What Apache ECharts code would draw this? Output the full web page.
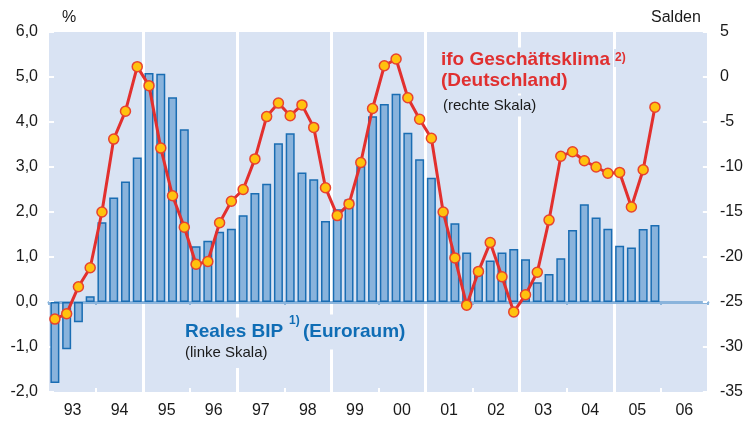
<!DOCTYPE html>
<html>
<head>
<meta charset="utf-8">
<script src="https://cdn.jsdelivr.net/npm/echarts@6/dist/echarts.min.js"></script>
<style>
html,body{margin:0;padding:0;background:#fff;}
#c{width:746px;height:421px;}
</style>
</head>
<body>
<div id="c"></div>
<script>
// Quarters 1993Q1 .. 2006Q4
const years = ['93','94','95','96','97','98','99','00','01','02','03','04','05','06'];
// Real GDP (euro area), % y/y, left axis
const bipValues = [
  -1.80, -1.05, -0.45, 0.13,
  1.77, 2.32, 2.68, 3.21,
  5.09, 5.07, 4.55, 3.84,
  1.24, 1.36, 1.56, 1.63,
  1.93, 2.42, 2.63, 3.53,
  3.75, 2.88, 2.73, 1.80,
  2.06, 2.28, 3.02, 4.13,
  4.40, 4.63, 3.76, 3.17,
  2.76, 2.02, 1.75, 1.10,
  0.66, 0.92, 1.10, 1.18,
  0.95, 0.44, 0.62, 0.97,
  1.60, 2.17, 1.88, 1.63,
  1.25, 1.21, 1.62, 1.71
];
// ifo business climate (Germany), balances, right axis
const ifoValues = [
  -26.9, -26.3, -23.3, -21.2,
  -15.0, -6.9, -3.8, 1.15,
  -0.96, -7.9, -13.2, -16.7,
  -20.8, -20.5, -16.2, -13.8,
  -12.5, -9.1, -4.4, -2.9,
  -4.3, -3.1, -5.6, -12.3,
  -15.4, -14.1, -9.5, -3.5,
  1.25, 2.0, -2.3, -4.7,
  -6.8, -15.0, -20.1, -25.35,
  -21.6, -18.4, -22.2, -26.1,
  -24.2, -21.7, -15.9, -8.8,
  -8.3, -9.3, -10.0, -10.7,
  -10.6, -14.45, -10.3, -3.35
];
const leftTicks = { min: -2, max: 6, interval: 1 };
const rightTicks = { min: -35, max: 5, interval: 5 };

const quarters = [];
years.forEach(y => { for (let q = 1; q <= 4; q++) quarters.push(y + 'Q' + q); });
const pad = arr => arr.concat(new Array(quarters.length - arr.length).fill(null));

const FONT = '"Liberation Sans", Arial, sans-serif';
const BG = '#d9e3f3';

const chart = echarts.init(document.getElementById('c'), null, { renderer: 'canvas' });
chart.setOption({
  animation: false,
  backgroundColor: '#ffffff',
  textStyle: { fontFamily: FONT },
  grid: { left: 49, right: 36, top: 32, bottom: 29, show: true, backgroundColor: BG, borderWidth: 0 },
  xAxis: [
    {
      type: 'category', data: quarters, boundaryGap: true,
      axisLine: { show: true, onZero: true, lineStyle: { color: '#8ab4dc', width: 3 } },
      axisTick: { show: true, length: 3, lineStyle: { color: '#8ab4dc', width: 2 },
        interval: (i) => i % 8 === 4 || i === 0 || i === 52 },
      axisLabel: { show: false },
      splitLine: { show: false }
    },
    {
      type: 'category', data: years, boundaryGap: true, position: 'bottom',
      axisLine: { show: false, onZero: false },
      axisTick: { show: true, inside: true, length: 4, lineStyle: { color: '#ffffff', width: 2 },
        interval: (i) => i % 2 === 1 },
      axisLabel: { show: true, color: '#1a1a1a', fontSize: 16, fontFamily: FONT, margin: 11 },
      splitLine: { show: true, lineStyle: { color: '#ffffff', width: 3 },
        interval: (i) => i % 2 === 0 && i > 0 }
    }
  ],
  yAxis: [
    {
      type: 'value', position: 'left', min: leftTicks.min, max: leftTicks.max, interval: leftTicks.interval,
      axisLine: { show: false },
      axisTick: { show: true, inside: true, length: 5, lineStyle: { color: '#ffffff', width: 2 } },
      axisLabel: { color: '#1a1a1a', fontSize: 16, fontFamily: FONT, margin: 11,
        formatter: v => v.toFixed(1).replace('.', ',') },
      splitLine: { show: false }
    },
    {
      type: 'value', position: 'right', min: rightTicks.min, max: rightTicks.max, interval: rightTicks.interval,
      axisLine: { show: false },
      axisTick: { show: true, inside: true, length: 5, lineStyle: { color: '#ffffff', width: 2 } },
      axisLabel: { color: '#1a1a1a', fontSize: 16, fontFamily: FONT, margin: 12 },
      splitLine: { show: false }
    }
  ],
  series: [
    {
      type: 'bar', xAxisIndex: 0, yAxisIndex: 0, data: pad(bipValues),
      barWidth: 9,
      itemStyle: { color: '#89b3dc', borderColor: '#1a6db3', borderWidth: 1.5 }
    },
    {
      type: 'line', xAxisIndex: 0, yAxisIndex: 1, data: pad(ifoValues),
      symbol: 'circle', symbolSize: 10, showSymbol: true, showAllSymbol: true,
      lineStyle: { color: '#e2302e', width: 3 },
      itemStyle: { color: '#ffc20e', borderColor: '#e8432e', borderWidth: 1.5 },
      z: 5
    }
  ],
  graphic: [
    { type: 'text', left: 62, top: 10, style: { text: '%', font: '16px ' + FONT, fill: '#1a1a1a' } },
    { type: 'text', left: 651, top: 10, style: { text: 'Salden', font: '16px ' + FONT, fill: '#1a1a1a' } },
    { type: 'text', x: 439, y: 60, z: 3, style: { text: 'ifo Geschäftsklima', font: 'bold 19px ' + FONT,
      fill: '#e03030', verticalAlign: 'middle', backgroundColor: BG, padding: [3, 2, 3, 2] } },
    { type: 'text', x: 614, y: 58, z: 3, style: { text: '2)', font: 'bold 12px ' + FONT,
      fill: '#e03030', verticalAlign: 'middle', backgroundColor: BG, padding: [3, 2, 3, 1] } },
    { type: 'text', x: 439, y: 81, z: 3, style: { text: '(Deutschland)', font: 'bold 19px ' + FONT,
      fill: '#e03030', verticalAlign: 'middle', backgroundColor: BG, padding: [3, 2, 3, 2] } },
    { type: 'text', x: 441, y: 106, z: 3, style: { text: '(rechte Skala)', font: '15px ' + FONT,
      fill: '#1a1a1a', verticalAlign: 'middle', backgroundColor: BG, padding: [3, 2, 3, 2] } },
    { type: 'text', x: 183, y: 332, z: 3, style: { text: 'Reales BIP', font: 'bold 19px ' + FONT,
      fill: '#0f6db5', verticalAlign: 'middle', backgroundColor: BG, padding: [5, 2, 5, 2] } },
    { type: 'text', x: 288, y: 321, z: 3, style: { text: '1)', font: 'bold 12px ' + FONT,
      fill: '#0f6db5', verticalAlign: 'middle', backgroundColor: BG, padding: [3, 2, 3, 1] } },
    { type: 'text', x: 301, y: 332, z: 3, style: { text: '(Euroraum)', font: 'bold 19px ' + FONT,
      fill: '#0f6db5', verticalAlign: 'middle', backgroundColor: BG, padding: [8, 2, 8, 2] } },
    { type: 'text', x: 183, y: 353, z: 3, style: { text: '(linke Skala)', font: '15px ' + FONT,
      fill: '#1a1a1a', verticalAlign: 'middle', backgroundColor: BG, padding: [5, 2, 10, 2] } }
  ]
});
</script>
</body>
</html>
